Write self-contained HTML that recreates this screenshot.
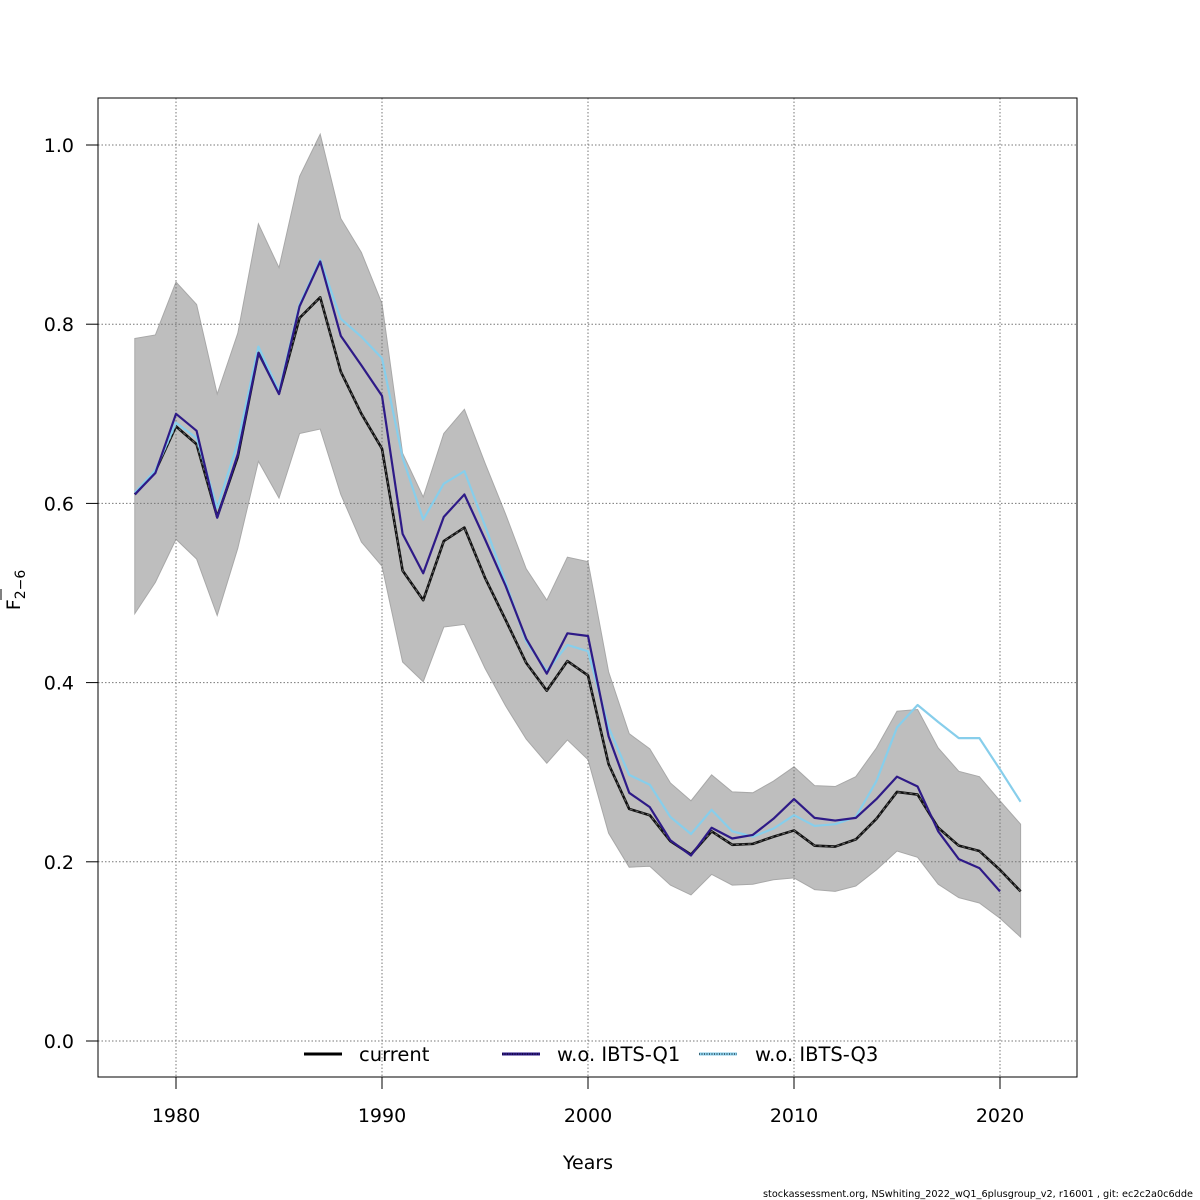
<!DOCTYPE html>
<html><head><meta charset="utf-8"><style>
body{margin:0;background:#fff;}
svg{display:block;font-family:"DejaVu Sans","Liberation Sans",sans-serif;}
</style></head><body>
<svg id="chart" width="1200" height="1200" viewBox="0 0 1200 1200"></svg>
<script>
const years=[];for(let y=1978;y<=2021;y++)years.push(y);
const current=[0.610,0.636,0.686,0.666,0.585,0.652,0.768,0.723,0.807,0.830,0.747,0.700,0.661,0.525,0.492,0.558,0.573,0.517,0.470,0.422,0.391,0.424,0.408,0.309,0.259,0.252,0.223,0.208,0.234,0.219,0.220,0.228,0.235,0.218,0.217,0.225,0.248,0.278,0.275,0.238,0.218,0.212,0.191,0.167];
const woQ1=[0.610,0.634,0.700,0.681,0.584,0.655,0.768,0.722,0.820,0.870,0.787,0.754,0.720,0.566,0.522,0.585,0.610,0.560,0.508,0.449,0.410,0.455,0.452,0.340,0.277,0.261,0.224,0.207,0.238,0.226,0.230,0.248,0.270,0.249,0.246,0.249,0.270,0.295,0.284,0.234,0.203,0.193,0.167];
const woQ3=[0.612,0.637,0.690,0.673,0.595,0.668,0.775,0.725,0.822,0.872,0.806,0.786,0.762,0.651,0.582,0.622,0.636,0.575,0.512,0.446,0.413,0.442,0.435,0.350,0.297,0.286,0.250,0.231,0.258,0.234,0.228,0.237,0.252,0.240,0.242,0.250,0.290,0.350,0.375,0.356,0.338,0.338,0.303,0.267];
const upper=[0.784,0.788,0.847,0.822,0.722,0.790,0.912,0.863,0.965,1.012,0.918,0.880,0.823,0.656,0.607,0.678,0.705,0.645,0.588,0.527,0.492,0.540,0.535,0.412,0.343,0.326,0.288,0.268,0.297,0.278,0.277,0.290,0.306,0.285,0.284,0.295,0.327,0.368,0.370,0.327,0.301,0.295,0.268,0.242];
const lower=[0.477,0.512,0.560,0.538,0.475,0.550,0.647,0.606,0.678,0.683,0.610,0.557,0.530,0.423,0.401,0.462,0.465,0.416,0.374,0.337,0.310,0.336,0.314,0.232,0.194,0.195,0.174,0.163,0.186,0.174,0.175,0.180,0.182,0.169,0.167,0.173,0.191,0.212,0.205,0.175,0.160,0.154,0.137,0.116];
const xTicks=[1980,1990,2000,2010,2020];
const yTicks=[0,0.2,0.4,0.6,0.8,1.0];
const yTickLabels=["0.0","0.2","0.4","0.6","0.8","1.0"];

const X=v=>176+(v-1980)*20.6;
const Y=v=>1041-v*896;
const svg=document.getElementById('chart');
const NS='http://www.w3.org/2000/svg';
function mk(tag,attrs,parent){const e=document.createElementNS(NS,tag);for(const k in attrs)e.setAttribute(k,attrs[k]);(parent||svg).appendChild(e);return e;}

let bandPts=years.map((y,i)=>X(y)+','+Y(upper[i]));
for(let i=years.length-1;i>=0;i--)bandPts.push(X(years[i])+','+Y(lower[i]));
const band=mk('polygon',{points:bandPts.join(' '),fill:'#bebebe',stroke:'#a8a8a8','stroke-width':1});



xTicks.forEach(t=>{const g=mk('line',{x1:X(t),x2:X(t),y1:98,y2:1077,stroke:'#777','stroke-width':1,'stroke-dasharray':'1.5,2'});

});
yTicks.forEach(t=>{const g=mk('line',{x1:98,x2:1077,y1:Y(t),y2:Y(t),stroke:'#777','stroke-width':1,'stroke-dasharray':'1.5,2'});

});

function line(vals,color,w,name,dash){const pts=vals.map((v,i)=>X(years[i])+','+Y(v)).join(' ');
const p=mk('polyline',{points:pts,fill:'none',stroke:color,'stroke-width':w,'stroke-linejoin':'round'});
if(dash)p.setAttribute('stroke-dasharray',dash);

return p;}
line(current,'#111',2.6,'line-current');
line(current,'#666',1,'line-current-dash','3,3');
line(woQ3,'#87ceeb',2.2,'line-wo-ibts-q3');
line(woQ1,'#2e1a87',2.2,'line-wo-ibts-q1');

const box=mk('rect',{x:98,y:98,width:979,height:979,fill:'none',stroke:'#000','stroke-width':1});



xTicks.forEach(t=>{const l=mk('line',{x1:X(t),x2:X(t),y1:1077,y2:1089,stroke:'#000'});


const tx=mk('text',{x:X(t),y:1122,'text-anchor':'middle','font-size':19,fill:'#000'});tx.textContent=t;

});
yTicks.forEach((t,i)=>{const l=mk('line',{x1:86,x2:98,y1:Y(t),y2:Y(t),stroke:'#000'});


const tx=mk('text',{x:74,y:Y(t)+7,'text-anchor':'end','font-size':19,fill:'#000'});tx.textContent=yTickLabels[i];

});
</script>
<svg style="position:absolute;left:0;top:0" width="1200" height="1200">
<text x="588" y="1169" text-anchor="middle" font-size="19" font-family="DejaVu Sans,sans-serif">Years</text>
<g transform="translate(20,590) rotate(-90)">
<text x="0" y="0" text-anchor="middle" font-size="19" font-family="DejaVu Sans,sans-serif">F<tspan font-size="14" dy="5">2−6</tspan></text>
<line x1="-10" x2="1" y1="-19" y2="-19" stroke="#000" stroke-width="1"/>
</g>
<g font-family="DejaVu Sans,sans-serif" font-size="19.5">
<g><line x1="304" x2="342" y1="1054" y2="1054" stroke="#000" stroke-width="3"/><text x="359" y="1061">current</text></g>
<g><line x1="502" x2="540" y1="1054" y2="1054" stroke="#2e1a87" stroke-width="3"/><line x1="502" x2="540" y1="1054" y2="1054" stroke="#000" stroke-width="1" stroke-dasharray="1,1.5"/><text x="557" y="1061">w.o. IBTS-Q1</text></g>
<g><line x1="699" x2="737" y1="1054" y2="1054" stroke="#87ceeb" stroke-width="3"/><line x1="699" x2="737" y1="1054" y2="1054" stroke="#000" stroke-width="1" stroke-dasharray="1,1.5"/><text x="755" y="1061">w.o. IBTS-Q3</text></g>
</g>
<text x="1193" y="1197" text-anchor="end" font-size="10" textLength="430" lengthAdjust="spacingAndGlyphs" font-family="DejaVu Sans,sans-serif">stockassessment.org, NSwhiting_2022_wQ1_6plusgroup_v2, r16001 , git: ec2c2a0c6dde</text>
</svg>
</body></html>
